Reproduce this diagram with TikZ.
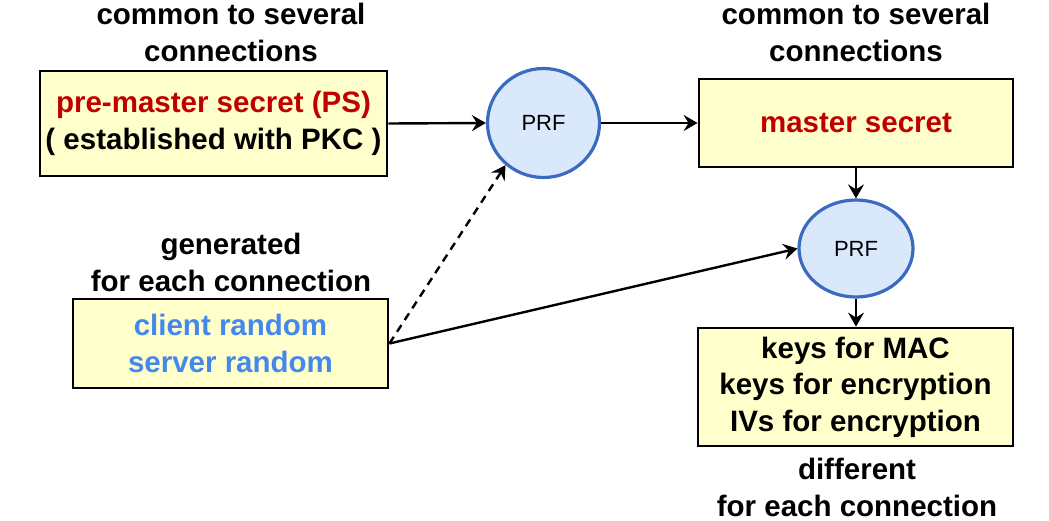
\documentclass[tikz,border=0pt]{standalone}
\usepackage{fontspec}
\setmainfont{Liberation Sans}
\usetikzlibrary{arrows.meta, positioning, shapes.geometric}
\definecolor{boxfill}{HTML}{FFFFCC}
\definecolor{secretred}{HTML}{C00000}
\definecolor{randblue}{HTML}{4488EE}
\definecolor{prffill}{HTML}{DAE8FC}
\definecolor{prfline}{HTML}{3A6BC0}

\begin{document}
\begin{tikzpicture}[x=0.5pt, y=-0.5pt,
    keybox/.style={draw, line width=1.4pt, fill=boxfill, align=center, inner sep=0pt,
        font=\bfseries\fontsize{14.75}{18.3}\selectfont},
    note/.style={align=center, inner sep=0pt, font=\bfseries\fontsize{14.75}{18.5}\selectfont},
    prf/.style={ellipse, draw=prfline, line width=1.6pt, fill=prffill, inner sep=0pt,
        font=\fontsize{11}{13}\selectfont},
    flow/.style={line width=1.2pt, -{Stealth[length=7pt, width=8pt, inset=2.5pt]}}]
    \useasboundingbox (0,0) rectangle (1049,520);
    % boxes
    \node[keybox, minimum width=173.5pt, minimum height=52.5pt] (ps) at (213.5,123.5)
        {\textcolor{secretred}{pre-master secret (PS)}\\( established with PKC )};
    \node[keybox, minimum width=157.5pt, minimum height=44.5pt] (rand) at (230.5,343.5)
        {\textcolor{randblue}{client random}\\\textcolor{randblue}{server random}};
    \node[keybox, minimum width=157pt, minimum height=44pt] (ms) at (856,123)
        {\textcolor{secretred}{master secret}};
    \node[keybox, minimum width=157.5pt, minimum height=59pt] (keys) at (855.5,387)
        {keys for MAC\\keys for encryption\\IVs for encryption};
    % PRF
    \node[prf, minimum width=56pt, minimum height=54.5pt] (prfa) at (543.5,123) {PRF};
    \node[prf, minimum width=57pt, minimum height=48.5pt] (prfb) at (856,248.5) {PRF};
    % labels
    \node[note] (commonl) at (231,32) {common to several\\connections};
    \node[note] (commonr) at (856,32) {common to several\\connections};
    \node[note] (gen) at (231,262) {generated\\for each connection};
    \node[note] (diff) at (857,487) {different\\for each connection};
    % arrows
    \draw[flow] (ps.east) -- (prfa.west);
    \draw[flow] (prfa.east) -- (ms.west);
    \draw[flow] (ms.south -| prfb.north) -- (prfb.north);
    \draw[flow] (prfb.south) -- (prfb.south |- keys.north);
    \draw[flow] (rand.east) -- (prfb.west);
    \draw[flow, dash pattern=on 4pt off 3pt] (rand.east) -- (prfa.-132);
\end{tikzpicture}
\end{document}
